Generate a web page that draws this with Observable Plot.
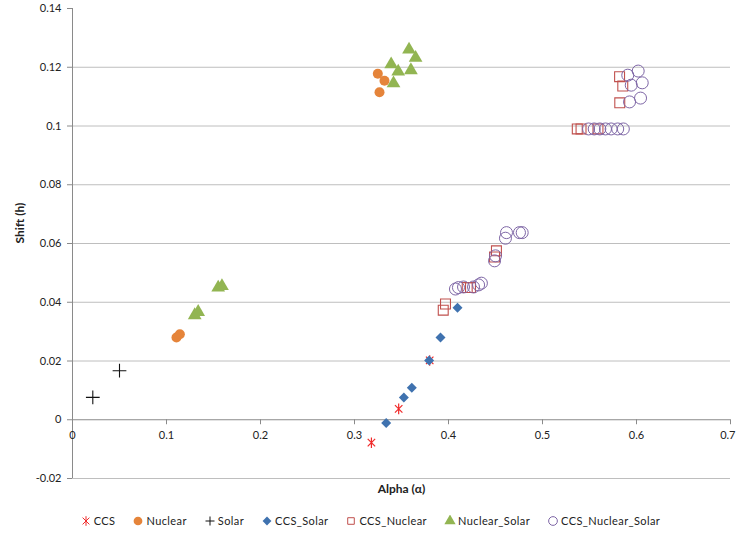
<!DOCTYPE html>
<html>
<head>
<meta charset="utf-8">
<script src="https://cdn.jsdelivr.net/npm/d3@7"></script>
<script src="https://cdn.jsdelivr.net/npm/@observablehq/plot@0.6"></script>
<style>
  body { margin: 0; background: #fff; font-family: Lato, "Open Sans", sans-serif; }
  #legend { display: flex; justify-content: center; gap: 17px; font-size: 11px; color: #222; padding-top: 14px; padding-left: 4px; }
  #legend span.item { display: inline-flex; align-items: center; gap: 2px; letter-spacing: 0.4px; }
</style>
</head>
<body>
<div id="chart"></div>
<div id="legend"></div>
<script>
// ---- data ----
const xTicks = [0, 0.1, 0.2, 0.3, 0.4, 0.5, 0.6, 0.7];
const xTickLabels = ["0", "0.1", "0.2", "0.3", "0.4", "0.5", "0.6", "0.7"];
const yTicks = [-0.02, 0, 0.02, 0.04, 0.06, 0.08, 0.1, 0.12, 0.14];
const yTickLabels = ["-0.02", "0", "0.02", "0.04", "0.06", "0.08", "0.1", "0.12", "0.14"];
const yGrid = [-0.02, 0.02, 0.04, 0.06, 0.08, 0.1, 0.12];

const seriesNames = ["CCS", "Nuclear", "Solar", "CCS_Solar", "CCS_Nuclear", "Nuclear_Solar", "CCS_Nuclear_Solar"];

const ccsAlpha = [0.318, 0.347, 0.380];
const ccsShift = [-0.0078, 0.0037, 0.0202];

const nuclearAlpha = [0.1106, 0.1142, 0.3248, 0.3319, 0.3266];
const nuclearShift = [0.0280, 0.0291, 0.1178, 0.1154, 0.1115];

const solarAlpha = [0.0216, 0.0500];
const solarShift = [0.0076, 0.0167];

const ccsSolarAlpha = [0.3337, 0.3525, 0.3610, 0.3794, 0.3915, 0.4096];
const ccsSolarShift = [-0.0011, 0.0076, 0.0109, 0.0202, 0.0280, 0.0381];

const ccsNuclearAlpha = [0.3944, 0.3968, 0.4199, 0.4234, 0.4490, 0.4510, 0.5370, 0.5410, 0.5590, 0.5820, 0.5854, 0.5822];
const ccsNuclearShift = [0.0373, 0.0394, 0.0450, 0.0450, 0.0554, 0.0575, 0.0990, 0.0990, 0.0990, 0.1168, 0.1136, 0.1079];

const nuclearSolarAlpha = [0.1300, 0.1337, 0.1550, 0.1590, 0.3390, 0.3415, 0.3465, 0.3580, 0.3600, 0.3650];
const nuclearSolarShift = [0.0356, 0.0367, 0.0450, 0.0455, 0.1210, 0.1145, 0.1185, 0.1260, 0.1190, 0.1232];

const ccsNuclearSolarAlpha = [0.4074, 0.4106, 0.4160, 0.4266, 0.4320, 0.4350, 0.4490, 0.4500, 0.4606, 0.4617, 0.4755, 0.4784,
  0.5490, 0.5550, 0.5610, 0.5670, 0.5730, 0.5800, 0.5860, 0.5907, 0.6018, 0.5944, 0.6061, 0.5926, 0.6043];
const ccsNuclearSolarShift = [0.0445, 0.0450, 0.0452, 0.0452, 0.0459, 0.0465, 0.0541, 0.0558, 0.0618, 0.0637, 0.0637, 0.0637,
  0.0990, 0.0990, 0.0990, 0.0990, 0.0990, 0.0990, 0.0990, 0.1173, 0.1187, 0.1139, 0.1147, 0.1082, 0.1095];

// ---- helpers ----
const zip = (a, s) => a.map((v, i) => ({alpha: v, shift: s[i]}));
const tickRows = xTicks.map((v, i) => ({x: v, label: xTickLabels[i], last: i === xTicks.length - 1}));
const starSymbol = {
  draw(ctx, size) {
    const r = Math.sqrt(size) * 0.62;
    const d = r * Math.SQRT1_2;
    ctx.moveTo(-d, -d); ctx.lineTo(d, d);
    ctx.moveTo(d, -d); ctx.lineTo(-d, d);
    ctx.moveTo(0, -r); ctx.lineTo(0, r);
  }
};

const red = "#F02A2A", orange = "#E5843A", blue = "#3F72AF", brick = "#C0504D", green = "#92B552", purple = "#7E66A6";

const font = "Lato, 'Open Sans', sans-serif";

const chart = Plot.plot({
  width: 736,
  height: 500,
  marginLeft: 72,
  marginRight: 6,
  marginTop: 8,
  marginBottom: 22,
  style: {fontFamily: font, fontSize: "11px", color: "#222", background: "#fff"},
  x: {type: "linear", domain: [0, 0.7], axis: null},
  y: {type: "linear", domain: [-0.02, 0.14], axis: null},
  marks: [
    Plot.ruleY(yGrid, {stroke: "#BEBEBE", strokeWidth: 1}),
    Plot.ruleY([0], {stroke: "#8A8A8A", strokeWidth: 1}),
    Plot.ruleX([0], {y1: -0.02, y2: 0.14, stroke: "#8A8A8A", strokeWidth: 1}),
    Plot.axisY(yTicks, {tickFormat: (d, i) => yTickLabels[i], tickSize: 5, tickPadding: 6, stroke: "#8A8A8A", fill: "#222", fontSize: 11, label: null}),
    Plot.ruleX(xTicks, {x: d => d, y1: 0, y2: -0.0017, stroke: "#8A8A8A"}),
    Plot.text(tickRows.filter(d => !d.last), {x: "x", y: 0, text: "label", dy: 16, fill: "#222", fontSize: 11, textAnchor: "middle"}),
    Plot.text(tickRows.filter(d => d.last), {x: "x", y: 0, text: "label", dy: 16, dx: 5, fill: "#222", fontSize: 11, textAnchor: "end"}),
    Plot.text(["Alpha (α)"], {frameAnchor: "bottom", dy: 14, fontWeight: "bold", fontSize: 12, fill: "#222"}),
    Plot.text(["Shift (h)"], {frameAnchor: "left", dx: -52, dy: 0, rotate: -90, fontWeight: "bold", fontSize: 12, fill: "#222"}),

    Plot.dot(zip(ccsAlpha, ccsShift), {x: "alpha", y: "shift", symbol: starSymbol, r: 4.8, stroke: red, strokeWidth: 1.2, fill: "none"}),
    Plot.dot(zip(nuclearAlpha, nuclearShift), {x: "alpha", y: "shift", symbol: "circle", r: 5, fill: orange, stroke: "none"}),
    Plot.dot(zip(solarAlpha, solarShift), {x: "alpha", y: "shift", symbol: "plus", r: 4.5, stroke: "#111", strokeWidth: 1.1, fill: "none"}),
    Plot.dot(zip(ccsSolarAlpha, ccsSolarShift), {x: "alpha", y: "shift", symbol: "diamond2", r: 4.5, fill: blue, stroke: "none"}),
    Plot.dot(zip(ccsNuclearAlpha, ccsNuclearShift), {x: "alpha", y: "shift", symbol: "square", r: 5.6, fill: "none", stroke: brick, strokeWidth: 1.1}),
    Plot.dot(zip(nuclearSolarAlpha, nuclearSolarShift), {x: "alpha", y: "shift", symbol: "triangle", r: 5.1, fill: green, stroke: "none"}),
    Plot.dot(zip(ccsNuclearSolarAlpha, ccsNuclearSolarShift), {x: "alpha", y: "shift", symbol: "circle", r: 6, fill: "none", stroke: purple, strokeWidth: 1})
  ]
});
document.getElementById("chart").appendChild(chart);

// ---- legend ----
const legendSymbols = [
  {sym: starSymbol, fill: "none", stroke: red, size: 60},
  {sym: d3.symbolCircle, fill: orange, stroke: "none", size: 60},
  {sym: d3.symbolPlus, fill: "none", stroke: "#111", size: 50, plusStroke: true},
  {sym: d3.symbolDiamond2, fill: blue, stroke: "none", size: 50},
  {sym: d3.symbolSquare2, fill: "none", stroke: brick, size: 55},
  {sym: d3.symbolTriangle, fill: green, stroke: "none", size: 55},
  {sym: d3.symbolCircle, fill: "none", stroke: purple, size: 60}
];
const legend = document.getElementById("legend");
seriesNames.forEach((name, i) => {
  const s = legendSymbols[i];
  const item = document.createElement("span");
  item.className = "item";
  const svg = d3.create("svg").attr("width", 12).attr("height", 12);
  const path = s.plusStroke
    ? "M-4.5,0L4.5,0M0,-4.5L0,4.5"
    : d3.symbol(s.sym, s.size)();
  svg.append("path").attr("d", path).attr("transform", "translate(6,6)")
    .attr("fill", s.fill).attr("stroke", s.stroke).attr("stroke-width", 1);
  item.appendChild(svg.node());
  const t = document.createElement("span");
  t.textContent = name;
  item.appendChild(t);
  legend.appendChild(item);
});
</script>
</body>
</html>
